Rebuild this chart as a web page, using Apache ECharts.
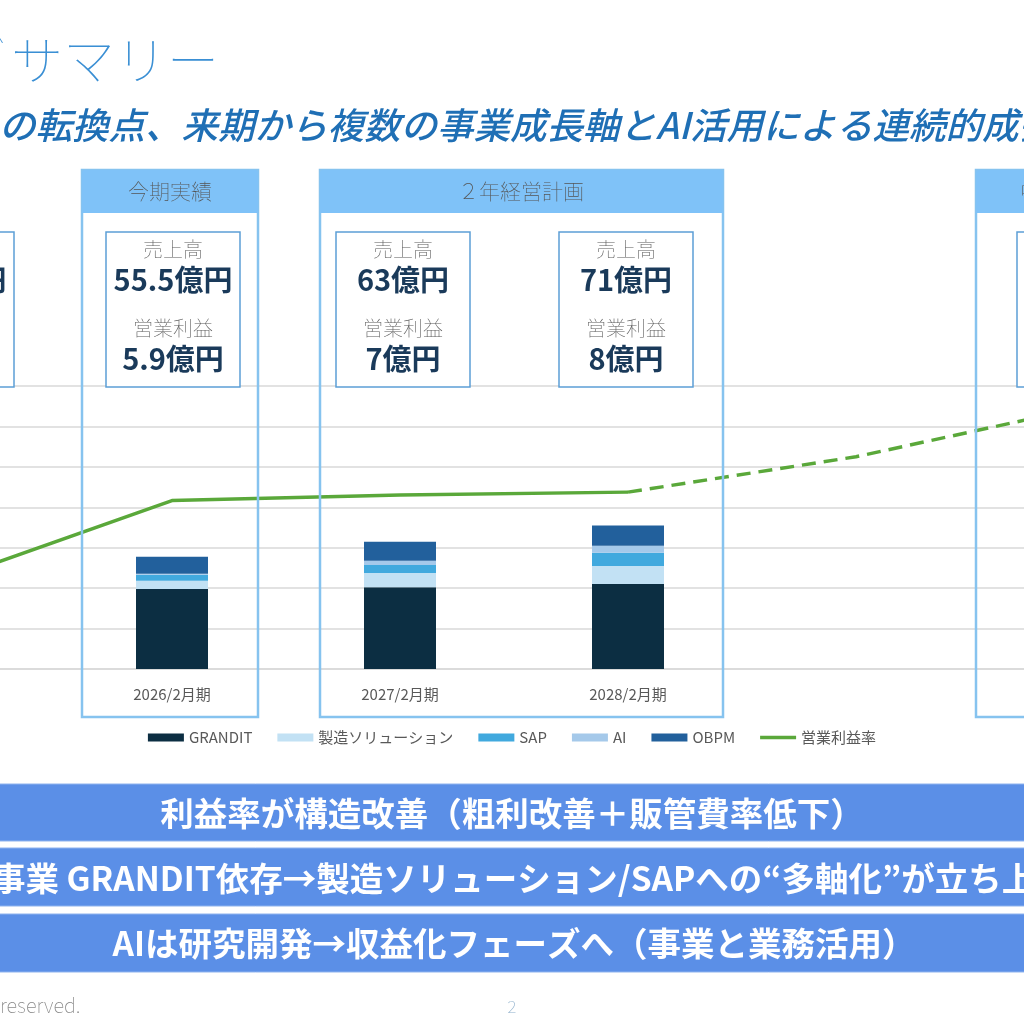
<!DOCTYPE html>
<html>
<head>
    <meta charset="utf-8">
    <title>サマリー</title>
    <script src="https://cdn.jsdelivr.net/npm/echarts@6/dist/echarts.min.js"></script>
    <style>
        html, body { margin: 0; padding: 0; background: #fff; }
    </style>
</head>
<body>
    <div id="main" style="width: 1024px;height:1024px;"></div>
    <script type="text/javascript">
        // 決算期（2029 の位置はラベルなし）
        var categories = ['2025/2月期', '2026/2月期', '2027/2月期', '2028/2月期', '', '2030/2月期'];

        // 売上高の内訳（億円）
        var grandit  = [null, 39.6, 40.5, 42.0, null, null];
        var seizo    = [null, 4.0, 7.0, 9.0, null, null];
        var sap      = [null, 3.0, 4.0, 6.5, null, null];
        var ai       = [null, 0.5, 2.0, 3.5, null, null];
        var obpm     = [null, 8.4, 9.5, 10.0, null, null];

        // 営業利益率（右側の非表示軸で読んだ値）
        var marginActual = [6.2, 11.9, 12.3, 12.5, null, null];
        var marginPlan   = [null, null, null, 12.5, 15.0, 18.5];

        // ボックスの数値
        var salesText  = ['55.5億円', '63億円', '71億円'];
        var profitText = ['5.9億円', '7億円', '8億円'];

        var FONT = '"Noto Sans CJK JP", "Noto Sans", sans-serif';
        var FRAME = '#86c3ef';
        var HEAD = '#7fc2f8';
        var BOX = '#5c9fd6';

        function txt(text, x, y, size, color, weight, align, extra) {
            var st = {
                text: text, x: x, y: y, fill: color,
                font: (extra || '') + ' ' + (weight || 'normal') + ' ' + size + 'px ' + FONT,
                textAlign: align || 'center', textVerticalAlign: 'middle'
            };
            return { type: 'text', z: 20, style: st };
        }
        function frame(x, w) {
            return [
                { type: 'rect', z: 12, shape: { x: x, y: 170, width: w, height: 43, r: [3, 3, 0, 0] },
                  style: { fill: HEAD } },
                { type: 'rect', z: 11, shape: { x: x, y: 170, width: w, height: 547 },
                  style: { fill: 'none', stroke: FRAME, lineWidth: 2.5 } }
            ];
        }
        function box(cx, sales, profit) {
            return [
                { type: 'rect', z: 12, shape: { x: cx - 67, y: 232, width: 134, height: 155 },
                  style: { fill: '#fff', stroke: BOX, lineWidth: 1.5 } },
                txt('売上高', cx, 249, 20, '#595959', 'lighter'),
                txt(sales, cx, 280, 29, '#1a3a5a', 'bold'),
                txt('営業利益', cx, 328, 20, '#595959', 'lighter'),
                txt(profit, cx, 359, 29, '#1a3a5a', 'bold')
            ];
        }
        function banner(y, h) {
            return { type: 'rect', z: 10, shape: { x: -10, y: y, width: 1044, height: h },
                     style: { fill: '#5b8fe7', stroke: '#8fb3ee', lineWidth: 1 } };
        }

        var elements = [];
        // タイトル
        elements.push(txt('゛', -5, 52, 30, '#3a8fd4', 'lighter', 'left'));
        elements.push(txt('サマリー', 11, 60, 52, '#3a8fd4', 'lighter', 'left'));
        elements.push(txt('の転換点、来期から複数の事業成長軸とAI活用による連続的成長', -1, 125, 36.5, '#1f6fb5', '500', 'left', 'italic'));
        // パネル
        elements = elements.concat(frame(82, 176), frame(320, 403), frame(976, 214));
        elements.push(txt('今期実績', 170, 191, 21, '#555', 'lighter'));
        elements.push(txt('２年経営計画', 521, 191, 21, '#555', 'lighter'));
        elements.push(txt('中期経営目標', 1083, 191, 21, '#555', 'lighter'));
        elements = elements.concat(box(-53, '50.2億円', '3.1億円'));
        elements = elements.concat(box(173, salesText[0], profitText[0]));
        elements = elements.concat(box(403, salesText[1], profitText[1]));
        elements = elements.concat(box(626, salesText[2], profitText[2]));
        elements = elements.concat(box(1084, '', ''));
        // 下部バナー
        elements.push(banner(784, 57), banner(848, 58), banner(914, 58));
        elements.push(txt('利益率が構造改善（粗利改善＋販管費率低下）', 512, 813, 33.5, '#fff', 'bold'));
        elements.push(txt('事業 GRANDIT依存→製造ソリューション/SAPへの“多軸化”が立ち上がり', -8, 878, 33.5, '#fff', 'bold', 'left'));
        elements.push(txt('AIは研究開発→収益化フェーズへ（事業と業務活用）', 514, 943, 33.5, '#fff', 'bold'));
        // フッター
        elements.push(txt('All rights', -7, 1005, 20, '#8a8a8a', 'lighter', 'right'));
        elements.push(txt('reserved.', 0, 1005, 20, '#8a8a8a', 'lighter', 'left'));
        elements.push(txt('2', 512, 1007, 17, '#8fb0cc', 'lighter'));

        var myChart = echarts.init(document.getElementById('main'));

        function barSeries(name, data, color) {
            return {
                name: name, type: 'bar', stack: 'sales', barWidth: 72,
                data: data, itemStyle: { color: color }
            };
        }

        var option = {
            animation: false,
            textStyle: { fontFamily: FONT },
            grid: { left: -170, top: 386, width: 1368, height: 283, outerBoundsMode: 'none', containLabel: false },
            legend: {
                left: 'center', top: 725,
                itemWidth: 36, itemHeight: 8, itemGap: 25,
                symbolKeepAspect: true,
                textStyle: { fontSize: 15, color: '#595959' },
                data: [
                    { name: 'GRANDIT', icon: 'rect' },
                    { name: '製造ソリューション', icon: 'rect' },
                    { name: 'SAP', icon: 'rect' },
                    { name: 'AI', icon: 'rect' },
                    { name: 'OBPM', icon: 'rect' },
                    { name: '営業利益率', icon: 'path://M0,0L36,0L36,3.5L0,3.5Z' }
                ]
            },
            xAxis: {
                type: 'category',
                data: categories,
                axisTick: { show: false },
                axisLine: { lineStyle: { color: '#d9d9d9', width: 1.5 } },
                axisLabel: { color: '#595959', fontSize: 15, margin: 18, interval: 0 }
            },
            yAxis: [
                {
                    type: 'value', min: 0, max: 140, interval: 20,
                    axisLabel: { show: false },
                    axisLine: { show: false }, axisTick: { show: false },
                    splitLine: { lineStyle: { color: '#d9d9d9', width: 1.5 } }
                },
                { type: 'value', min: 0, max: 20, show: false, splitLine: { show: false } }
            ],
            series: [
                barSeries('GRANDIT', grandit, '#0c2e42'),
                barSeries('製造ソリューション', seizo, '#c2e1f4'),
                barSeries('SAP', sap, '#41a9de'),
                barSeries('AI', ai, '#a5c9ea'),
                barSeries('OBPM', obpm, '#22609c'),
                {
                    name: '営業利益率', type: 'line', yAxisIndex: 1, symbol: 'none',
                    data: marginActual,
                    lineStyle: { color: '#5aa83a', width: 3.5 },
                    itemStyle: { color: '#5aa83a' }
                },
                {
                    name: '営業利益率', type: 'line', yAxisIndex: 1, symbol: 'none',
                    data: marginPlan,
                    lineStyle: { color: '#5aa83a', width: 3.5, type: [14, 8] },
                    itemStyle: { color: '#5aa83a' }
                }
            ],
            graphic: { elements: elements }
        };

        myChart.setOption(option);
    </script>
</body>
</html>
